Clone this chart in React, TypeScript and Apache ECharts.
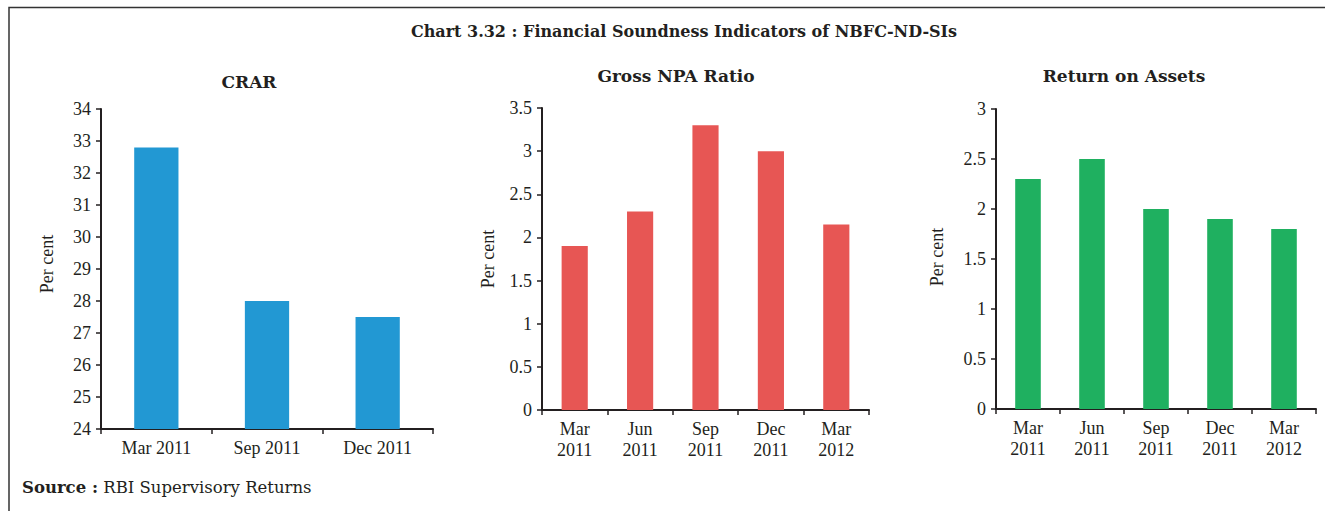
import React, { useEffect, useRef } from "react";
import * as echarts from "echarts";

const mainTitle = "Chart 3.32 : Financial Soundness Indicators of NBFC-ND-SIs";
const panelTitles = ["CRAR", "Gross NPA Ratio", "Return on Assets"];
const yAxisName = "Per cent";
const sourceText = "RBI Supervisory Returns";

const crarCategories = ["Mar 2011", "Sep 2011", "Dec 2011"];
const crarValues = [32.8, 28.0, 27.5];

const quarterCategories = ["Mar\n2011", "Jun\n2011", "Sep\n2011", "Dec\n2011", "Mar\n2012"];
const grossNpaValues = [1.9, 2.3, 3.3, 3.0, 2.15];
const roaValues = [2.3, 2.5, 2.0, 1.9, 1.8];

const FONT = '"Liberation Serif", "DejaVu Serif", serif';
const FONT_WIDE = '"DejaVu Serif", "Liberation Serif", serif';
const TEXT = "#231f20";
const AXIS = "#231f20";

export default function App() {
  const ref = useRef<HTMLDivElement>(null);
  useEffect(() => {
    if (!ref.current) return;
    const chart = echarts.init(ref.current, null, { renderer: "svg" });

    const grids = [
      { left: 101, top: 109, width: 332, height: 320 },
      { left: 542, top: 108, width: 327, height: 302 },
      { left: 996, top: 109, width: 320, height: 300 },
    ];

    const xAxisBase = (i: number, data: string[]) => ({
      type: "category" as const,
      gridIndex: i,
      data,
      boundaryGap: true,
      axisLine: { show: true, lineStyle: { color: AXIS, width: 2 } },
      axisTick: { show: true, alignWithLabel: false, length: 5, lineStyle: { color: AXIS, width: 1.5 } },
      axisLabel: { color: TEXT, fontFamily: FONT, fontSize: 18, margin: 8, lineHeight: 21, interval: 0 },
      splitLine: { show: false },
    });

    const yAxisBase = (i: number, min: number, max: number, interval: number) => ({
      type: "value" as const,
      gridIndex: i,
      min,
      max,
      interval,
      axisLine: { show: true, lineStyle: { color: AXIS, width: 2 } },
      axisTick: { show: true, length: 5, lineStyle: { color: AXIS, width: 1.5 } },
      axisLabel: { color: TEXT, fontFamily: FONT, fontSize: 18, margin: 10 },
      splitLine: { show: false },
    });

    const textStyle = (family: string, size: number, weight: string) => ({
      fontFamily: family,
      fontSize: size,
      fontWeight: weight,
      fill: TEXT,
      align: "center",
      verticalAlign: "middle",
    });

    chart.setOption({
      animation: false,
      backgroundColor: "#ffffff",
      grid: grids.map((g) => ({ ...g, containLabel: false })),
      xAxis: [
        xAxisBase(0, crarCategories),
        xAxisBase(1, quarterCategories),
        xAxisBase(2, quarterCategories),
      ],
      yAxis: [
        yAxisBase(0, 24, 34, 1),
        yAxisBase(1, 0, 3.5, 0.5),
        yAxisBase(2, 0, 3, 0.5),
      ],
      series: [
        { type: "bar", xAxisIndex: 0, yAxisIndex: 0, data: crarValues, barWidth: "40%", itemStyle: { color: "#2298d3" } },
        { type: "bar", xAxisIndex: 1, yAxisIndex: 1, data: grossNpaValues, barWidth: "40%", itemStyle: { color: "#e75654" } },
        { type: "bar", xAxisIndex: 2, yAxisIndex: 2, data: roaValues, barWidth: "40%", itemStyle: { color: "#1fb060" } },
      ],
      graphic: [
        {
          type: "rect",
          shape: { x: 9, y: 7.5, width: 1400, height: 600 },
          style: { fill: "none", stroke: "#333333", lineWidth: 1.5 },
          silent: true,
        },
        { type: "text", x: 684, y: 31, style: { text: mainTitle, ...textStyle(FONT_WIDE, 16, "bold") } },
        { type: "text", x: 249, y: 82, style: { text: panelTitles[0], ...textStyle(FONT_WIDE, 17, "bold") } },
        { type: "text", x: 676, y: 76, style: { text: panelTitles[1], ...textStyle(FONT_WIDE, 17, "bold") } },
        { type: "text", x: 1124, y: 76, style: { text: panelTitles[2], ...textStyle(FONT_WIDE, 17, "bold") } },
        { type: "text", x: 46.5, y: 264, rotation: Math.PI / 2, style: { text: yAxisName, ...textStyle(FONT, 18, "normal") } },
        { type: "text", x: 488, y: 259, rotation: Math.PI / 2, style: { text: yAxisName, ...textStyle(FONT, 18, "normal") } },
        { type: "text", x: 937, y: 257, rotation: Math.PI / 2, style: { text: yAxisName, ...textStyle(FONT, 18, "normal") } },
        {
          type: "text",
          x: 22,
          y: 487,
          style: {
            text: "{b|Source :} " + sourceText,
            fontFamily: FONT_WIDE,
            fontSize: 16.5,
            fill: TEXT,
            align: "left",
            verticalAlign: "middle",
            rich: { b: { fontFamily: FONT_WIDE, fontSize: 16.5, fontWeight: "bold", fill: TEXT } },
          },
        },
      ],
    });
    return () => chart.dispose();
  }, []);
  return (
    <div
      ref={ref}
      style={{ position: "absolute", left: 0, top: 0, width: 1325, height: 511, background: "#fff" }}
    />
  );
}
